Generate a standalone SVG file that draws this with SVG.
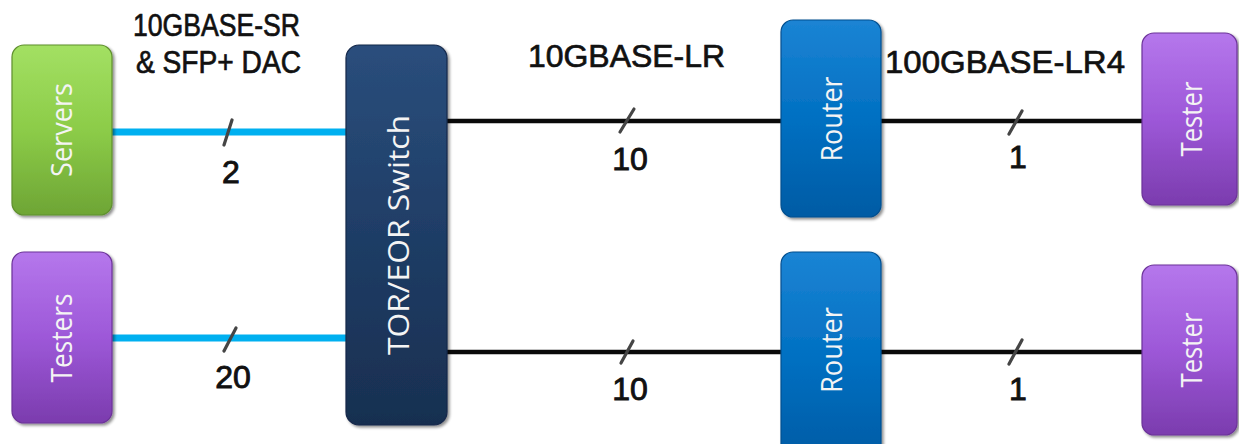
<svg xmlns="http://www.w3.org/2000/svg" width="1239" height="444" viewBox="0 0 1239 444">
  <defs>
    <linearGradient id="gGreen" x1="0" y1="0" x2="0" y2="1">
      <stop offset="0" stop-color="#a3e063"/>
      <stop offset="0.5" stop-color="#8ccc48"/>
      <stop offset="1" stop-color="#6ea535"/>
    </linearGradient>
    <linearGradient id="gPurple" x1="0" y1="0" x2="0" y2="1">
      <stop offset="0" stop-color="#b577ec"/>
      <stop offset="0.5" stop-color="#9d58d8"/>
      <stop offset="1" stop-color="#7b3cae"/>
    </linearGradient>
    <linearGradient id="gNavy" x1="0" y1="0" x2="0" y2="1">
      <stop offset="0" stop-color="#2a4e7c"/>
      <stop offset="0.5" stop-color="#1f3d66"/>
      <stop offset="1" stop-color="#182f50"/>
    </linearGradient>
    <linearGradient id="gBlue" x1="0" y1="0" x2="0" y2="1">
      <stop offset="0" stop-color="#1b84d4"/>
      <stop offset="0.5" stop-color="#0270c2"/>
      <stop offset="1" stop-color="#005ba4"/>
    </linearGradient>
    <filter id="shadow" x="-10%" y="-10%" width="125%" height="125%">
      <feGaussianBlur in="SourceAlpha" stdDeviation="1.5"/>
      <feOffset dx="1.5" dy="2" result="off"/>
      <feComponentTransfer><feFuncA type="linear" slope="0.45"/></feComponentTransfer>
      <feMerge><feMergeNode/><feMergeNode in="SourceGraphic"/></feMerge>
    </filter>
    <filter id="soft" x="-20%" y="-20%" width="140%" height="140%">
      <feGaussianBlur stdDeviation="0.6"/>
    </filter>
  </defs>
  <style>
    .box { filter: url(#shadow); stroke-width: 1.2; }
    .green { fill: url(#gGreen); stroke: #5f8f2d; }
    .purple { fill: url(#gPurple); stroke: #6c3399; }
    .navy { fill: url(#gNavy); stroke: #14284a; }
    .blue { fill: url(#gBlue); stroke: #004f8f; }
    .nlabel { font-family: "Open Sans", "Noto Sans", sans-serif; font-size: 30px; fill: #f4f4f4; text-anchor: middle; }
    .label { font-family: "Liberation Sans", Arial, sans-serif; font-size: 32px; fill: #111; stroke: #111; stroke-width: 0.7; }
    .num { font-family: "Liberation Sans", Arial, sans-serif; font-size: 32px; fill: #111; stroke: #111; stroke-width: 0.9; text-anchor: middle; }
    .cyan { stroke: #00b0f0; stroke-width: 7; fill: none; }
    .black { stroke: #0a0a0a; stroke-width: 4.5; fill: none; }
    .tick { stroke: #444; stroke-width: 3.2; stroke-linecap: round; filter: url(#soft); }
  </style>

  <!-- links -->
  <g id="connectors">
    <line class="cyan" x1="112" y1="132" x2="347" y2="132"/>
    <line class="cyan" x1="112" y1="338" x2="347" y2="338"/>
    <line class="black" x1="446" y1="121" x2="782" y2="121"/>
    <line class="black" x1="880" y1="121" x2="1143" y2="121"/>
    <line class="black" x1="446" y1="352" x2="782" y2="352"/>
    <line class="black" x1="880" y1="352" x2="1143" y2="352"/>
    <!-- bundle tick marks -->
    <line class="tick" x1="224" y1="145" x2="232" y2="120"/>
    <line class="tick" x1="224" y1="351" x2="236" y2="328"/>
    <line class="tick" x1="620" y1="132" x2="634" y2="109"/>
    <line class="tick" x1="621" y1="363" x2="633" y2="341"/>
    <line class="tick" x1="1009" y1="134" x2="1022" y2="111"/>
    <line class="tick" x1="1009" y1="364" x2="1022" y2="340"/>
    <!-- link counts -->
    <text class="num" x="231" y="183">2</text>
    <text class="num" x="233" y="388">20</text>
    <text class="num" x="630" y="170">10</text>
    <text class="num" x="630" y="400">10</text>
    <text class="num" x="1018" y="168">1</text>
    <text class="num" x="1018" y="400">1</text>
  </g>

  <!-- link type captions -->
  <g id="captions">
    <text class="label" x="133" y="36" textLength="167" lengthAdjust="spacingAndGlyphs">10GBASE-SR</text>
    <text class="label" x="136" y="73" textLength="165" lengthAdjust="spacingAndGlyphs">&amp; SFP+ DAC</text>
    <text class="label" x="528" y="67" textLength="197" lengthAdjust="spacingAndGlyphs">10GBASE-LR</text>
    <text class="label" x="885" y="73" textLength="240" lengthAdjust="spacingAndGlyphs">100GBASE-LR4</text>
  </g>

  <g id="servers">
    <rect class="box green" x="12" y="45" width="100" height="170" rx="12"/>
    <text class="nlabel" transform="translate(72,130) rotate(-90)" textLength="94" lengthAdjust="spacingAndGlyphs">Servers</text>
  </g>
  <g id="testers">
    <rect class="box purple" x="12" y="252" width="100" height="171" rx="12"/>
    <text class="nlabel" transform="translate(72,338) rotate(-90)" textLength="89" lengthAdjust="spacingAndGlyphs">Testers</text>
  </g>
  <g id="switch">
    <rect class="box navy" x="346" y="45" width="101" height="380" rx="13"/>
    <text class="nlabel" transform="translate(409,235) rotate(-90)" textLength="240" lengthAdjust="spacingAndGlyphs">TOR/EOR Switch</text>
  </g>
  <g id="router-1">
    <rect class="box blue" x="781" y="20" width="100" height="197" rx="12"/>
    <text class="nlabel" transform="translate(842,119) rotate(-90)" textLength="85" lengthAdjust="spacingAndGlyphs">Router</text>
  </g>
  <g id="router-2">
    <rect class="box blue" x="781" y="252" width="100" height="210" rx="12"/>
    <text class="nlabel" transform="translate(842,350) rotate(-90)" textLength="86" lengthAdjust="spacingAndGlyphs">Router</text>
  </g>
  <g id="tester-1">
    <rect class="box purple" x="1142" y="33" width="95" height="172" rx="12"/>
    <text class="nlabel" transform="translate(1202,119) rotate(-90)" textLength="75" lengthAdjust="spacingAndGlyphs">Tester</text>
  </g>
  <g id="tester-2">
    <rect class="box purple" x="1142" y="265" width="95" height="170" rx="12"/>
    <text class="nlabel" transform="translate(1202,350) rotate(-90)" textLength="75" lengthAdjust="spacingAndGlyphs">Tester</text>
  </g>
</svg>
